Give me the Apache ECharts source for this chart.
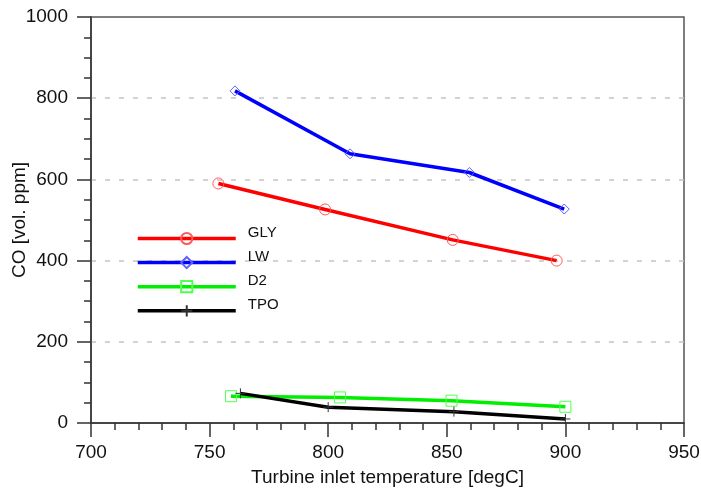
<!DOCTYPE html>
<html>
<head>
<meta charset="utf-8">
<script src="https://cdn.jsdelivr.net/npm/echarts@6/dist/echarts.min.js"></script>
<style>html,body{margin:0;padding:0;background:#fff}#c{width:701px;height:488px}</style>
</head>
<body>
<div id="c"></div>
<script>
// Data: [turbine inlet temperature, CO]
var seriesNames = ['GLY', 'LW', 'D2', 'TPO'];
var gly = [[753.7, 590], [798.7, 526], [852.5, 451], [896.3, 400]];
var lw  = [[760.7, 818], [809.2, 663], [859.5, 617], [899.5, 527]];
var d2  = [[759, 66], [805, 63], [852, 55], [900, 40]];
var tpo = [[763, 73], [800, 39], [853, 28], [900, 10]];
var xTicks = [700, 750, 800, 850, 900, 950];
var yTicks = [0, 200, 400, 600, 800, 1000];

var FONT = 'Liberation Sans, Arial, sans-serif';
var chart = echarts.init(document.getElementById('c'), null, {renderer: 'canvas'});

function mk(name, data, lineColor, symColor, symbol, size) {
  return {
    name: name, type: 'line', data: data,
    symbol: symbol, symbolSize: size, showSymbol: true,
    lineStyle: {color: lineColor, width: 3.5},
    itemStyle: {color: 'rgba(0,0,0,0)', borderColor: symColor, borderWidth: 1},
    emphasis: {disabled: true}, animation: false, z: 3
  };
}

chart.setOption({
  animation: false,
  backgroundColor: '#fff',
  grid: {left: 91, right: 17, top: 17, bottom: 65, containLabel: false, outerBoundsMode: 'none',
         show: true, borderColor: '#555', borderWidth: 1.5},
  legend: {
    orient: 'vertical', left: 131, top: 220,
    itemWidth: 98, itemHeight: 14, itemGap: 4,
    data: seriesNames,
    lineStyle: {width: 3.5},
    formatter: function (n) { return '{a|' + n + '}'; },
    textStyle: {fontFamily: FONT, fontSize: 15, color: '#111',
      rich: {a: {fontFamily: FONT, fontSize: 15, color: '#111', padding: [0, 0, 12, 7]}}}
  },
  xAxis: {
    type: 'value', min: xTicks[0], max: xTicks[xTicks.length - 1], interval: 50,
    name: 'Turbine inlet temperature [degC]', nameLocation: 'middle', nameGap: 45,
    nameMoveOverlap: false,
    nameTextStyle: {fontFamily: FONT, fontSize: 19, color: '#111'},
    axisLine: {show: true, lineStyle: {color: '#333', width: 1.5}},
    axisTick: {show: true, length: 14, lineStyle: {color: '#333', width: 1.5}},
    minorTick: {show: true, splitNumber: 5, length: 7, lineStyle: {color: '#333', width: 1.5}},
    axisLabel: {fontFamily: FONT, fontSize: 19, color: '#111', margin: 20,
      formatter: function (v) { return String(v); }},
    splitLine: {show: false}
  },
  yAxis: {
    type: 'value', min: yTicks[0], max: yTicks[yTicks.length - 1], interval: 200,
    name: 'CO [vol. ppm]', nameLocation: 'middle', nameGap: 62,
    nameMoveOverlap: false,
    nameTextStyle: {fontFamily: FONT, fontSize: 19, color: '#111'},
    axisLine: {show: true, lineStyle: {color: '#333', width: 1.5}},
    axisTick: {show: true, length: 14, lineStyle: {color: '#333', width: 1.5}},
    minorTick: {show: true, splitNumber: 4, length: 7, lineStyle: {color: '#333', width: 1.5}},
    axisLabel: {fontFamily: FONT, fontSize: 19, color: '#111', margin: 23,
      formatter: function (v) { return String(v); }},
    splitLine: {show: true, showMinLine: false, showMaxLine: false,
      lineStyle: {color: '#c4c4c4', width: 1.5, type: [5, 9]}}
  },
  series: [
    mk('GLY', gly, '#ff0000', '#ff5a5a', 'circle', 11),
    mk('LW', lw, '#0000ff', '#6060ff', 'diamond', 10),
    mk('D2', d2, '#00ee00', '#50ff50', 'rect', 11),
    mk('TPO', tpo, '#000000', '#333333', 'path://M5,0 L5,10 M0,5 L10,5', 10)
  ]
});
</script>
</body>
</html>
